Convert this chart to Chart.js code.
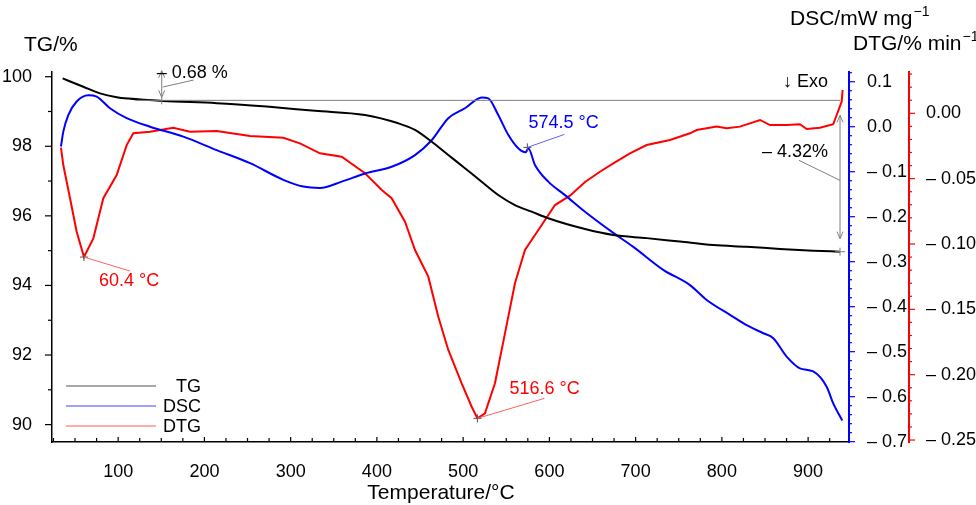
<!DOCTYPE html>
<html>
<head>
<meta charset="utf-8">
<script src="https://cdn.jsdelivr.net/npm/chart.js@4.4.1/dist/chart.umd.min.js"></script>
<style>
  html, body { margin: 0; padding: 0; background: #fff; }
  #wrap { width: 976px; height: 505px; }
</style>
</head>
<body>
<div id="wrap"><canvas id="thermoChart" width="976" height="505"></canvas></div>
<script>
// TG curve (temperature / %)
const tgTemp = [35.7, 59.6, 79.0, 98.3, 111.8, 152.3, 214.3, 272.2, 328.2, 386.2, 424.8, 444.2, 463.5, 482.8, 502.1, 521.5, 540.7, 560.1, 579.5, 598.7, 641.3, 674.1, 712.8, 751.4, 790.0, 828.7, 867.4, 905.9, 936.9];
const tgValues = [99.95, 99.71, 99.52, 99.41, 99.37, 99.30, 99.24, 99.14, 99.02, 98.90, 98.66, 98.47, 98.13, 97.75, 97.37, 96.98, 96.60, 96.31, 96.12, 95.93, 95.62, 95.45, 95.36, 95.26, 95.16, 95.11, 95.05, 95.00, 94.97];

// DSC curve (temperature / mW mg-1)
const dscTemp = [33.7, 36.4, 42.2, 51.9, 65.4, 75.1, 90.5, 109.9, 136.9, 175.5, 214.3, 252.9, 291.5, 314.7, 334.0, 359.2, 386.2, 417.1, 444.2, 463.5, 482.8, 502.1, 521.5, 529.2, 540.7, 552.3, 563.9, 572.5, 575.5, 583.3, 598.7, 618.1, 641.3, 674.1, 697.3, 732.0, 763.0, 782.4, 809.4, 828.7, 848.0, 859.6, 875.1, 890.5, 905.9, 921.5, 929.1, 939.6];
const dscValues = [-0.044, -0.011, 0.026, 0.056, 0.070, 0.067, 0.041, 0.019, 0.000, -0.022, -0.052, -0.081, -0.118, -0.133, -0.136, -0.122, -0.104, -0.089, -0.063, -0.030, 0.019, 0.041, 0.065, 0.063, 0.026, -0.018, -0.048, -0.057, -0.048, -0.085, -0.122, -0.152, -0.189, -0.236, -0.267, -0.318, -0.352, -0.385, -0.418, -0.441, -0.459, -0.470, -0.511, -0.537, -0.544, -0.578, -0.615, -0.653];

// DTG curve (temperature / % min-1)
const dtgTemp = [33.7, 36.4, 44.2, 51.9, 60.4, 71.2, 82.8, 98.3, 109.9, 117.6, 136.9, 163.9, 183.3, 214.3, 252.9, 291.5, 310.8, 334.0, 359.2, 386.2, 405.6, 417.1, 432.6, 444.2, 459.6, 471.2, 482.8, 498.3, 509.9, 516.6, 525.3, 536.9, 548.5, 560.1, 571.7, 591.1, 606.5, 623.9, 641.3, 658.6, 674.1, 693.4, 712.8, 739.8, 763.0, 770.8, 793.9, 805.5, 821.0, 844.2, 855.8, 875.1, 890.5, 898.3, 913.7, 929.1, 933.1, 938.9, 940.0];
const dtgValues = [-0.0263, -0.0396, -0.065, -0.0906, -0.110, -0.0957, -0.065, -0.0472, -0.0243, -0.0153, -0.0141, -0.011, -0.0141, -0.0135, -0.0174, -0.0187, -0.023, -0.0306, -0.0332, -0.0459, -0.0587, -0.065, -0.083, -0.1046, -0.125, -0.1557, -0.1811, -0.2066, -0.2245, -0.2334, -0.2296, -0.2066, -0.1684, -0.130, -0.1046, -0.0855, -0.0702, -0.063, -0.0526, -0.0447, -0.0383, -0.0306, -0.0243, -0.0204, -0.0153, -0.0128, -0.0102, -0.0115, -0.0102, -0.0051, -0.009, -0.009, -0.0084, -0.012, -0.011, -0.0084, -0.0013, 0.0089, 0.0178];

// tick labels
const xTicks = [100, 200, 300, 400, 500, 600, 700, 800, 900];
const tgTicks = [90, 92, 94, 96, 98, 100];
const dscTicks = [-0.7, -0.6, -0.5, -0.4, -0.3, -0.2, -0.1, 0.0, 0.1];
const dtgTicks = [-0.25, -0.20, -0.15, -0.10, -0.05, 0.00];

// annotations
const tgStart = 100;          // initial mass
const tgPlateau = 99.32;      // after first loss (-0.68 %)
const tgEnd = 95.00;          // final (-4.32 %)
const lossTexts = ['\u2013 0.68 %', '\u2013 4.32%'];
const peakTemps = [60.4, 516.6, 574.5];
const peakTexts = ['60.4 \u00b0C', '516.6 \u00b0C', '574.5 \u00b0C'];

const FONT = '"Liberation Sans", Arial, Helvetica, sans-serif';

function toXY(xs, ys) {
    return xs.map((t, i) => ({ x: t, y: ys[i] }));
}

function dash(v, digits) {
    const s = Math.abs(v).toFixed(digits);
    return v < -1e-9 ? '\u2013 ' + s : s;
}

function fixTicks(list) {
    return function(scale) {
        scale.ticks = list.map(v => ({ value: v }));
    };
}

function line(ctx, x1, y1, x2, y2) {
    ctx.beginPath();
    ctx.moveTo(x1, y1);
    ctx.lineTo(x2, y2);
    ctx.stroke();
}

function arrowHead(ctx, x, y, dir) {
    ctx.beginPath();
    ctx.moveTo(x - 3, y - dir * 7);
    ctx.lineTo(x, y);
    ctx.lineTo(x + 3, y - dir * 7);
    ctx.stroke();
}

function plus(ctx, x, y) {
    line(ctx, x - 4, y, x + 4, y);
    line(ctx, x, y - 4, x, y + 4);
}

// titel mit hochgestelltem -1
function unitTitle(ctx, text, x, y) {
    ctx.font = '21px ' + FONT;
    ctx.fillText(text, x, y);
    const w = ctx.measureText(text).width;
    ctx.font = '14px ' + FONT;
    ctx.fillText('\u22121', x + w + 1, y - 7);
}

// minor / major tick marks for all four axes
const tickMarks = {
    id: 'tickMarks',
    afterDraw(chart) {
        const { ctx } = chart;
        const { x, yTG, yDSC, yDTG } = chart.scales;
        ctx.save();
        ctx.lineWidth = 1.2;

        ctx.strokeStyle = '#000';
        for (let t = 25; t <= 925; t += 25) {
            const px = x.getPixelForValue(t);
            const len = t % 100 === 0 ? 5 : 4;
            line(ctx, px, x.top, px, x.top - len);
        }
        for (let v = 90; v <= 100; v++) {
            const py = yTG.getPixelForValue(v);
            const len = v % 2 === 0 ? 7 : 4;
            line(ctx, yTG.right, py, yTG.right - len, py);
        }

        ctx.strokeStyle = '#0000ff';
        for (let k = -35; k <= 6; k++) {
            const py = yDSC.getPixelForValue(k * 0.02);
            const len = k % 5 === 0 ? 6 : 3;
            line(ctx, yDSC.left, py, yDSC.left + len, py);
        }

        ctx.strokeStyle = '#ff0000';
        for (let k = -25; k <= 3; k++) {
            const py = yDTG.getPixelForValue(k * 0.01);
            const len = k % 5 === 0 ? 6 : 3;
            line(ctx, yDTG.left, py, yDTG.left + len, py);
        }
        ctx.restore();
    }
};

// texts, arrows, reference line and legend
const notes = {
    id: 'notes',
    afterDatasetsDraw(chart) {
        const { ctx } = chart;
        const { x, yTG, yDSC, yDTG } = chart.scales;
        ctx.save();
        ctx.textBaseline = 'middle';

        // horizontal reference line at the first plateau
        ctx.strokeStyle = '#7f7f7f';
        ctx.lineWidth = 1;
        const yRef = yTG.getPixelForValue(tgPlateau);
        line(ctx, x.getPixelForValue(120), yRef, x.getPixelForValue(937), yRef);

        // first loss arrow
        const xa = x.getPixelForValue(150.5);
        const ya1 = yTG.getPixelForValue(tgStart) - 6;
        const ya2 = yRef - 3;
        line(ctx, xa, ya1, xa, yRef + 4);
        arrowHead(ctx, xa, ya1, -1);
        arrowHead(ctx, xa, ya2, 1);
        line(ctx, xa + 1, (ya1 + ya2) / 2 + 3, xa + 32, (ya1 + ya2) / 2 - 4);
        ctx.fillStyle = '#000';
        ctx.font = '18px ' + FONT;
        ctx.textAlign = 'left';
        ctx.fillText(lossTexts[0], xa - 5, ya1 + 2);

        // second loss arrow
        const xb = x.getPixelForValue(937);
        const yEnd = yTG.getPixelForValue(94.97);
        const yb1 = yRef + 15;
        const yb2 = yTG.getPixelForValue(tgEnd) - 12;
        line(ctx, xb, yb1, xb, yb2);
        arrowHead(ctx, xb, yb1, -1);
        arrowHead(ctx, xb, yb2, 1);
        line(ctx, xb - 5, yEnd, xb + 5, yEnd);
        line(ctx, xb, yEnd - 4, xb, yEnd + 4);
        line(ctx, xb, yb1 + 65, xb - 41, yb1 + 45);
        ctx.fillText(lossTexts[1], xb - 78, yb1 + 37);

        // exo direction
        ctx.fillText('\u2193 Exo', 783, 82);

        // peak markers
        ctx.lineWidth = 1;
        const p1x = x.getPixelForValue(peakTemps[0]);
        const p1y = yDTG.getPixelForValue(-0.110);
        ctx.strokeStyle = '#555';
        plus(ctx, p1x, p1y);
        ctx.strokeStyle = '#ff6060';
        line(ctx, p1x, p1y, p1x + 46, p1y + 14);
        ctx.fillStyle = '#ff0000';
        ctx.fillText(peakTexts[0], p1x + 15, p1y + 24);

        const p2x = x.getPixelForValue(peakTemps[1]);
        const p2y = yDTG.getPixelForValue(-0.2334);
        ctx.strokeStyle = '#555';
        plus(ctx, p2x, p2y);
        ctx.strokeStyle = '#ff6060';
        line(ctx, p2x, p2y, p2x + 67, p2y - 20);
        ctx.fillText(peakTexts[1], p2x + 32, p2y - 29);

        const p3x = x.getPixelForValue(peakTemps[2]);
        const p3y = yDSC.getPixelForValue(-0.046);
        ctx.strokeStyle = '#555';
        plus(ctx, p3x, p3y);
        ctx.strokeStyle = '#6060ff';
        line(ctx, p3x, p3y, p3x + 37, p3y - 13);
        ctx.fillStyle = '#0000ff';
        ctx.fillText(peakTexts[2], p3x + 1, p3y - 24);

        // legend
        const legend = [['TG', '#8c8c8c'], ['DSC', '#8080ff'], ['DTG', '#ff9090']];
        ctx.lineWidth = 1.5;
        legend.forEach((item, i) => {
            const ly = 386 + i * 20;
            ctx.strokeStyle = item[1];
            line(ctx, 66, ly, 156, ly);
            ctx.fillStyle = '#000';
            ctx.textAlign = 'right';
            ctx.fillText(item[0], 201, ly + 1);
        });

        // axis titles
        ctx.fillStyle = '#000';
        ctx.textAlign = 'left';
        ctx.font = '21px ' + FONT;
        ctx.fillText('TG/%', 24, 45);
        ctx.textAlign = 'center';
        ctx.fillText('Temperature/\u00b0C', 441, 493);
        ctx.textAlign = 'left';
        unitTitle(ctx, 'DSC/mW mg', 790, 19);
        unitTitle(ctx, 'DTG/% min', 853, 44);
        ctx.restore();
    }
};

const ctx = document.getElementById('thermoChart').getContext('2d');

const chart = new Chart(ctx, {
    type: 'line',
    data: {
        datasets: [
            {
                label: 'TG',
                data: toXY(tgTemp, tgValues),
                yAxisID: 'yTG',
                borderColor: '#000000',
                borderWidth: 2,
                pointRadius: 0,
                cubicInterpolationMode: 'monotone'
            },
            {
                label: 'DSC',
                data: toXY(dscTemp, dscValues),
                yAxisID: 'yDSC',
                borderColor: '#0000ff',
                borderWidth: 2,
                pointRadius: 0,
                cubicInterpolationMode: 'monotone'
            },
            {
                label: 'DTG',
                data: toXY(dtgTemp, dtgValues),
                yAxisID: 'yDTG',
                borderColor: '#ff0000',
                borderWidth: 2,
                pointRadius: 0,
                tension: 0
            }
        ]
    },
    options: {
        responsive: false,
        animation: false,
        devicePixelRatio: 1,
        layout: { padding: { left: 0, right: 0, top: 72, bottom: 0 } },
        plugins: {
            legend: { display: false },
            tooltip: { enabled: false }
        },
        scales: {
            x: {
                type: 'linear',
                min: 23.3,
                max: 947.4,
                grid: { display: false },
                border: { display: true, color: '#000', width: 1.5 },
                afterBuildTicks: fixTicks(xTicks),
                afterFit(scale) { scale.height = 63; },
                ticks: {
                    color: '#000',
                    padding: 11,
                    maxRotation: 0,
                    font: { family: FONT, size: 18 },
                    callback: v => String(v)
                }
            },
            yTG: {
                type: 'linear',
                position: 'left',
                min: 89.5,
                max: 100.135,
                grid: { display: false },
                border: { display: true, color: '#000', width: 1.5 },
                afterBuildTicks: fixTicks(tgTicks),
                afterFit(scale) { scale.width = 52; },
                ticks: {
                    color: '#000',
                    padding: 12,
                    font: { family: FONT, size: 18 },
                    callback: v => String(v)
                }
            },
            yDSC: {
                type: 'linear',
                position: 'right',
                min: -0.7007,
                max: 0.1216,
                grid: { display: false },
                border: { display: true, color: '#0000ff', width: 2 },
                afterBuildTicks: fixTicks(dscTicks),
                afterFit(scale) { scale.width = 60; },
                ticks: {
                    color: '#000',
                    padding: 10,
                    font: { family: FONT, size: 18 },
                    callback: v => dash(v, 1)
                }
            },
            yDTG: {
                type: 'linear',
                position: 'right',
                min: -0.2515,
                max: 0.0316,
                grid: { display: false },
                border: { display: true, color: '#ff0000', width: 2 },
                afterBuildTicks: fixTicks(dtgTicks),
                afterFit(scale) { scale.width = 67; },
                ticks: {
                    color: '#000',
                    padding: 9,
                    font: { family: FONT, size: 18 },
                    callback: v => dash(v, 2)
                }
            }
        }
    },
    plugins: [notes, tickMarks]
});
</script>
</body>
</html>
